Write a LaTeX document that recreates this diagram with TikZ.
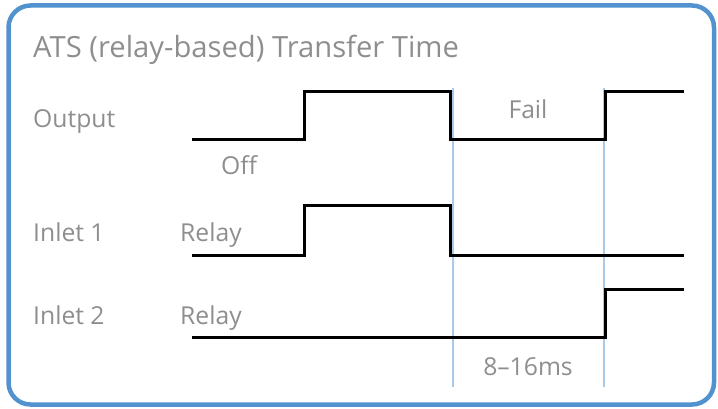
\documentclass[tikz,border=0pt]{standalone}
\usepackage{fontspec}
\setmainfont{Open Sans}
\usetikzlibrary{positioning}
\definecolor{framecol}{RGB}{82,146,206}
\definecolor{markcol}{RGB}{170,202,234}
\definecolor{textcol}{RGB}{142,142,142}
\tikzset{
  lbl/.style={text=textcol, font=\fontsize{24.7}{30}\selectfont, inner sep=0pt, anchor=base west},
  ttl/.style={lbl, font=\fontsize{29.2}{35}\selectfont},
  wave/.style={line width=3pt, black, line join=miter},
  marker/.style={line width=2pt, markcol}
}

\begin{document}
\begin{tikzpicture}[x=1pt,y=-1pt]
        \useasboundingbox (0,0) rectangle (718,409);
        \draw [framecol, line width=4.5pt, rounded corners=22pt] (8.5,5.5) rectangle (714,404.5);

        % transfer window markers
        \coordinate (m1top) at (453,88);
        \coordinate (m1bot) at (453,387);
        \coordinate (m2top) at (604,88);
        \coordinate (m2bot) at (604,387);
        \draw [marker] (m1top)--(m1bot);
        \draw [marker] (m2top)--(m2bot);

        % labels
        \node [ttl] (title) at (33,58) {ATS (relay-based) Transfer Time};
        \node [lbl] (output) at (33,128) {Output};
        \node [lbl] (inlet1) at (33,241) {Inlet 1};
        \node [lbl] (inlet2) at (33,324) {Inlet 2};
        \node [lbl] (off) at (221,175) {Off};
        \node [lbl, anchor=base] (fail) at (528,119) {Fail};
        \node [lbl] (relay1) at (180,241) {Relay};
        \node [lbl] (relay2) at (180,324) {Relay};
        \node [lbl, anchor=base] (gap) at (528,375) {8--16ms};

        % waveforms
        \draw [wave] (192,140)--(304,140)--(304,92)--(450,92)--(450,140)--(605,140)--(605,92)--(684,92);
        \draw [wave] (192,255)--(304,255)--(304,206)--(450,206)--(450,255)--(684,255);
        \draw [wave] (192,337)--(605,337)--(605,289)--(684,289);
\end{tikzpicture}
\end{document}
